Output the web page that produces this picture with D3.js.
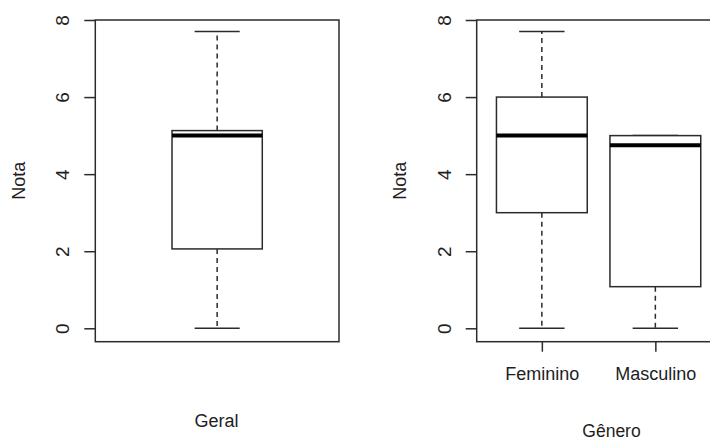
<!DOCTYPE html>
<html>
<head>
<meta charset="utf-8">
<script src="https://cdn.jsdelivr.net/npm/d3@7"></script>
<style>
  html, body { margin: 0; padding: 0; background: #fff; }
  svg { display: block; }
  text { font-family: "Liberation Sans", Arial, sans-serif; fill: #1e1e1e; }
</style>
</head>
<body>
<svg id="chart" width="710" height="442"></svg>
<script>
// ---- Data ----
const yTicks = [0, 2, 4, 6, 8];
const geralLabel = ["Geral"];
const geralStats = [{ min: 0, q1: 2.06, median: 5.0, q3: 5.13, max: 7.7 }];
const generoCategories = ["Feminino", "Masculino"];
const generoMin    = [0, 0];
const generoQ1     = [3.0, 1.08];
const generoMedian = [5.0, 4.75];
const generoQ3     = [6.0, 5.0];
const generoMax    = [7.7, 5.0];

const svg = d3.select("#chart");
const fontSize = 18;
const tickFontSize = 19;
const lineColor = "#2b2b2b";

const y = d3.scaleLinear().domain([0, 8]).range([328.3, 20]);
const plotTop = 20, plotBottom = 341.7;

function drawPanel(opts) {
  const g = svg.append("g");
  const x = d3.scaleLinear().domain(opts.xDomain).range([opts.left, opts.right]);

  // plot frame
  g.append("rect")
    .attr("x", opts.left).attr("y", plotTop)
    .attr("width", opts.right - opts.left).attr("height", plotBottom - plotTop)
    .attr("fill", "none").attr("stroke", lineColor).attr("stroke-width", 1.5);

  // y axis
  const ya = g.append("g").attr("transform", `translate(${opts.left},0)`)
    .call(d3.axisLeft(y).tickValues(yTicks).tickSize(11).tickFormat(d3.format("d")));
  ya.select(".domain").remove();
  ya.selectAll(".tick line").attr("stroke", lineColor).attr("stroke-width", 1.5);
  ya.selectAll(".tick text")
    .attr("x", null).attr("dy", null)
    .attr("transform", "translate(-26,0) rotate(-90)")
    .attr("text-anchor", "middle")
    .style("font-size", tickFontSize + "px")
    .attr("fill", "#1e1e1e");

  // y label
  g.append("text")
    .attr("transform", `translate(${opts.left - 70.5},${(plotTop + plotBottom) / 2}) rotate(-90)`)
    .attr("text-anchor", "middle")
    .style("font-size", fontSize + "px")
    .text("Nota");

  // x axis (categories)
  if (opts.showXAxis) {
    const xa = g.append("g").attr("transform", `translate(0,${plotBottom})`)
      .call(d3.axisBottom(x).tickValues(opts.stats.map((d, i) => i + 1)).tickSize(10)
        .tickFormat((d, i) => opts.cats[i]));
    xa.select(".domain").remove();
    xa.selectAll(".tick line").attr("stroke", lineColor).attr("stroke-width", 1.5);
    xa.selectAll(".tick text")
      .attr("y", 38.3).attr("dy", null)
      .style("font-size", fontSize + "px")
      .attr("fill", "#1e1e1e");
  }

  // boxes
  const bw = opts.boxHalf, cw = opts.capHalf;
  opts.stats.forEach((s, i) => {
    const c = x(i + 1);
    const hw = x(i + 1 + bw) - c;
    const hc = x(i + 1 + cw) - c;
    const bg = g.append("g");
    // whiskers (dashed)
    bg.append("line").attr("x1", c).attr("x2", c).attr("y1", y(s.q3)).attr("y2", y(s.max))
      .attr("stroke", lineColor).attr("stroke-width", 1.5).attr("stroke-dasharray", "5,4");
    bg.append("line").attr("x1", c).attr("x2", c).attr("y1", y(s.q1)).attr("y2", y(s.min))
      .attr("stroke", lineColor).attr("stroke-width", 1.5).attr("stroke-dasharray", "5,4");
    // caps
    [s.min, s.max].forEach(v => {
      bg.append("line").attr("x1", c - hc).attr("x2", c + hc).attr("y1", y(v)).attr("y2", y(v))
        .attr("stroke", lineColor).attr("stroke-width", 1.5);
    });
    // box
    bg.append("rect")
      .attr("x", c - hw).attr("y", y(s.q3))
      .attr("width", 2 * hw).attr("height", y(s.q1) - y(s.q3))
      .attr("fill", "#fff").attr("stroke", lineColor).attr("stroke-width", 1.5);
    // median
    bg.append("line").attr("x1", c - hw).attr("x2", c + hw).attr("y1", y(s.median)).attr("y2", y(s.median))
      .attr("stroke", "#000").attr("stroke-width", 4);
  });

  // x label
  g.append("text")
    .attr("x", opts.xlabX).attr("y", opts.xlabY)
    .attr("text-anchor", "middle")
    .style("font-size", opts.xlabSize + "px")
    .text(opts.xlab);
}

// Left panel: overall
drawPanel({
  left: 95.3, right: 339, xDomain: [0.46, 1.54],
  stats: geralStats, cats: geralLabel, showXAxis: false,
  boxHalf: 0.2, capHalf: 0.1,
  xlab: "Geral", xlabX: 216.5, xlabY: 427.3, xlabSize: 18
});

// Right panel: by gender
const generoStats = generoCategories.map((c, i) => ({
  min: generoMin[i], q1: generoQ1[i], median: generoMedian[i], q3: generoQ3[i], max: generoMax[i]
}));
drawPanel({
  left: 476.7, right: 720.5, xDomain: [0.426, 2.574],
  stats: generoStats, cats: generoCategories, showXAxis: true,
  boxHalf: 0.4, capHalf: 0.2,
  xlab: "Gênero", xlabX: 611.5, xlabY: 437.3, xlabSize: 17.5
});
</script>
</body>
</html>
